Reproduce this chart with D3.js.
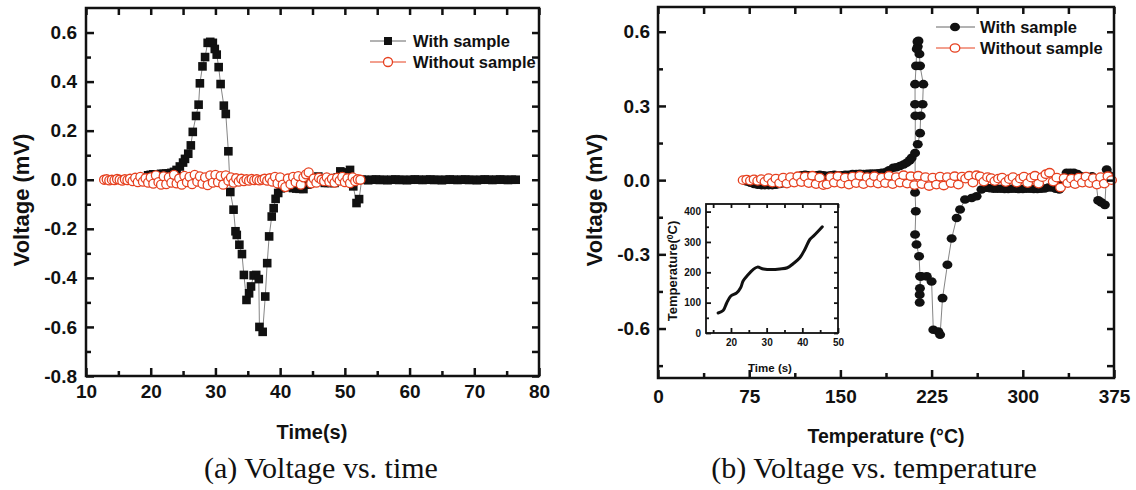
<!DOCTYPE html>
<html>
<head>
<meta charset="utf-8">
<script src="https://cdn.jsdelivr.net/npm/d3@7"></script>
<style>
body { margin: 0; background: #fff; }
svg text { font-family: "Liberation Sans", Arial, sans-serif; font-weight: bold; fill: #111; }
svg text.caption { font-family: "Liberation Serif", "DejaVu Serif", serif; font-weight: normal; }
</style>
</head>
<body>
<svg id="fig" width="1136" height="490"></svg>
<script>
// ---- data ----
let timeTicks = [10, 20, 30, 40, 50, 60, 70, 80];
let voltTicksA = [-0.8, -0.6, -0.4, -0.2, 0.0, 0.2, 0.4, 0.6];
let tempTicks = [0, 75, 150, 225, 300, 375];
let voltTicksB = [-0.6, -0.3, 0.0, 0.3, 0.6];
let insetTimeTicks = [20, 30, 40, 50];
let insetTempTicks = [0, 100, 200, 300, 400];

// (a) with sample: [time s, voltage mV]
let withSampleA = [
  [19.6, 0.018], [20.0, 0.02], [20.4, 0.022], [20.8, 0.022], [21.2, 0.022], [21.6, 0.024], [22.0, 0.024],
  [22.4, 0.025], [22.8, 0.026], [23.2, 0.028], [23.6, 0.032], [24.0, 0.04], [24.5, 0.054], [25.0, 0.07],
  [25.3, 0.085], [25.8, 0.106], [26.2, 0.14], [26.5, 0.195], [27.0, 0.26], [27.4, 0.306], [27.6, 0.393],
  [28.0, 0.462], [28.4, 0.50], [28.8, 0.558], [29.2, 0.562], [29.6, 0.558], [29.9, 0.533], [30.2, 0.51],
  [30.5, 0.459], [30.8, 0.39], [31.3, 0.302], [31.6, 0.268], [32.0, 0.116], [32.3, -0.05], [32.8, -0.122],
  [33.1, -0.21], [33.3, -0.225], [33.7, -0.265], [34.1, -0.303], [34.4, -0.388], [34.8, -0.49], [35.2, -0.463],
  [35.5, -0.435], [35.9, -0.39], [36.3, -0.388], [36.7, -0.405], [36.8, -0.6], [37.3, -0.62], [37.7, -0.476],
  [38.0, -0.34], [38.3, -0.231], [38.7, -0.15], [39.0, -0.116], [39.3, -0.078], [39.7, -0.054], [40.1, -0.035],
  [40.5, -0.02], [41.0, -0.025], [41.5, -0.03], [42.0, -0.034], [42.5, -0.036], [43.0, -0.037], [43.6, -0.038],
  [44.2, -0.02], [44.8, -0.005], [45.4, 0.005], [45.9, 0.013], [46.4, -0.005], [46.9, -0.013], [47.4, -0.013],
  [47.9, -0.013], [48.4, -0.013], [48.9, 0.01], [49.3, 0.034], [49.8, 0.03], [50.3, 0.025], [50.8, 0.04],
  [51.3, -0.027], [51.8, -0.095], [52.2, -0.079], [52.6, 0.0], [53.0, 0.0], [53.6, -0.002], [54.2, 0.0],
  [54.8, 0.001], [55.4, -0.001], [56.0, 0.0], [56.6, -0.002], [57.2, 0.0], [57.8, 0.001], [58.4, -0.001],
  [59.0, 0.0], [59.6, -0.002], [60.2, 0.0], [60.8, 0.001], [61.4, 0.0], [62.0, -0.001], [62.6, 0.0],
  [63.2, 0.001], [63.8, -0.001], [64.4, 0.0], [65.0, -0.002], [65.6, 0.0], [66.2, 0.001], [66.8, 0.0],
  [67.4, -0.001], [68.0, 0.0], [68.6, 0.001], [69.2, -0.001], [69.8, 0.0], [70.4, -0.002], [71.0, 0.0],
  [71.6, 0.001], [72.2, 0.0], [72.8, -0.001], [73.4, 0.0], [74.0, 0.001], [74.6, 0.0], [75.2, -0.001],
  [75.8, 0.0], [76.4, 0.0]
];

let noSampleTimeA = [
  12.8, 13.2, 13.6, 14.0, 14.4, 14.8, 15.2, 15.6, 16.0, 16.4, 16.8, 17.2, 17.6, 18.0, 18.4, 18.8, 19.2, 19.6, 20.0, 20.4,
  20.8, 21.2, 21.6, 22.0, 22.4, 22.8, 23.2, 23.6, 24.0, 24.4, 24.8, 25.2, 25.6, 26.0, 26.4, 26.8, 27.2, 27.6, 28.0, 28.4,
  28.8, 29.2, 29.6, 30.0, 30.4, 30.8, 31.2, 31.6, 32.0, 32.4, 32.8, 33.2, 33.6, 34.0, 34.4, 34.8, 35.2, 35.6, 36.0, 36.4,
  36.8, 37.2, 37.6, 38.0, 38.4, 38.8, 39.2, 39.6, 40.0, 40.4, 40.8, 41.2, 41.6, 42.0, 42.4, 42.8, 43.2, 43.6, 44.0, 44.4,
  44.8, 45.2, 45.6, 46.0, 46.4, 46.8, 47.2, 47.6, 48.0, 48.4, 48.8, 49.2, 49.6, 50.0, 50.4, 50.8, 51.2, 51.6, 52.0, 52.4
];
let noSampleVoltA = [
  0.0, 0.002, -0.003, 0.0, -0.002, 0.003, 0.0, -0.004, 0.002, -0.002, 0.004, -0.006, 0.008, -0.01, 0.012, -0.008, 0.006, -0.012, 0.01, -0.016,
  0.018, -0.01, -0.02, 0.014, -0.018, 0.01, -0.012, 0.02, -0.015, 0.005, -0.02, 0.016, -0.01, 0.012, -0.018, 0.02, -0.008, 0.014, -0.016, 0.01,
  -0.022, 0.018, -0.012, 0.02, -0.01, 0.015, -0.02, 0.018, -0.004, 0.01, -0.012, 0.006, -0.008, 0.004, -0.006, 0.002, -0.004, 0.003, -0.002, 0.002,
  -0.003, 0.0, 0.004, -0.004, 0.006, -0.008, 0.012, -0.015, 0.01, -0.02, -0.03, 0.005, -0.018, 0.012, -0.01, 0.015, -0.02, 0.01, 0.022, 0.03,
  -0.015, 0.005, -0.012, 0.008, 0.0, -0.006, 0.01, -0.008, 0.004, -0.012, 0.008, -0.004, 0.012, -0.01, 0.006, -0.014, 0.01, -0.006, 0.002, 0.0
];

// (b) with sample: [temperature C, voltage mV]
let withSampleB = [
  [73, -0.005], [76, -0.01], [79, -0.015], [82, -0.018], [85, -0.02], [88, -0.02], [91, -0.02], [94, -0.02],
  [97, -0.018], [100, -0.015], [103, -0.012], [106, -0.01], [109, -0.005], [112, 0.0], [115, 0.015], [118, 0.02],
  [121, 0.022], [124, 0.02], [127, 0.018], [130, 0.02], [133, 0.022], [136, 0.02], [139, 0.018], [142, 0.02],
  [145, 0.022], [148, 0.02], [151, 0.02], [154, 0.022], [157, 0.022], [160, 0.025], [163, 0.025], [166, 0.026],
  [169, 0.025], [172, 0.026], [175, 0.027], [178, 0.027], [181, 0.028], [184, 0.03], [187, 0.032], [190, 0.04],
  [193.5, 0.05], [196, 0.052], [199, 0.057], [202, 0.063], [204.5, 0.07], [207, 0.08], [208.6, 0.09], [211.4, 0.11],
  [213.6, 0.145], [215.5, 0.19], [216, 0.26], [217.6, 0.307], [218.2, 0.388], [215.5, 0.462], [215, 0.51],
  [213.6, 0.54], [214.2, 0.563], [213.4, 0.56], [212.8, 0.53], [212.2, 0.462], [211.4, 0.388], [211.4, 0.307],
  [211.6, 0.26], [211.4, -0.05], [212, -0.126], [211.4, -0.22], [212.6, -0.26], [214.7, -0.308], [215.5, -0.389],
  [215.2, -0.495], [215.2, -0.463], [215.4, -0.437], [216.5, -0.389], [221, -0.389], [225, -0.41], [226.4, -0.605],
  [230.5, -0.612], [232, -0.625], [234, -0.477], [238, -0.342], [241.5, -0.236], [245.6, -0.153], [248.4, -0.119],
  [252.5, -0.078], [258, -0.072], [262, -0.065], [266, -0.038], [270, -0.031], [273, -0.033], [276, -0.035],
  [279, -0.035], [282, -0.035], [285, -0.036], [288, -0.036], [291, -0.035], [294, -0.035], [297, -0.036],
  [300, -0.036], [303, -0.035], [306, -0.035], [309, -0.036], [312, -0.036], [315, -0.035], [318, -0.034],
  [321, -0.03], [324, -0.03], [327, -0.035], [330, -0.038], [333, -0.01], [336, 0.03], [339, 0.03], [342, 0.03],
  [345, 0.025], [348, 0.015], [351, 0.01], [354, 0.012], [357, 0.015], [360, 0.0], [362, -0.082], [364.5, -0.09],
  [367.5, -0.1], [369, 0.043], [371, 0.02]
];

let noSampleTempB = [
  70, 73, 76, 79, 82, 85, 88, 91, 94, 97, 100, 103, 106, 109, 112, 115, 118, 121, 124, 127, 130, 133, 136, 139, 142,
  145, 148, 151, 154, 157, 160, 163, 166, 169, 172, 175, 178, 181, 184, 187, 190, 193, 196, 199, 202, 205, 208, 211,
  214, 217, 220, 223, 226, 229, 232, 235, 238, 241, 244, 247, 250, 253, 256, 259, 262, 265, 268, 271, 274, 277, 280,
  283, 286, 289, 292, 295, 298, 301, 304, 307, 310, 313, 316, 319, 322, 325, 328, 331, 334, 337, 340, 343, 346, 349,
  352, 355, 358, 361, 364, 367, 370, 373
];
let noSampleVoltB = [
  0.0, 0.002, -0.002, 0.003, -0.003, 0.004, -0.006, 0.008, -0.01, 0.006, -0.012, 0.01, -0.014, 0.012, -0.01, 0.016,
  -0.008, 0.014, -0.012, 0.018, -0.016, 0.01, -0.02, -0.017, 0.012, -0.01, 0.016, -0.014, 0.01, -0.018, 0.014, -0.012,
  0.018, -0.016, 0.012, -0.01, 0.016, -0.014, 0.01, -0.012, 0.018, -0.016, 0.012, -0.01, 0.02, -0.014, 0.016, -0.02,
  0.018, -0.016, 0.012, -0.024, 0.01, -0.018, 0.014, -0.022, 0.012, -0.012, 0.016, -0.018, 0.014, 0.006, 0.018, -0.01,
  0.02, 0.015, -0.006, 0.012, 0.008, -0.004, 0.006, 0.01, -0.008, 0.004, 0.012, -0.01, 0.006, 0.014, -0.012, 0.01,
  0.018, -0.014, 0.012, 0.024, 0.03, -0.006, 0.01, -0.03, 0.008, -0.012, 0.006, -0.016, 0.01, -0.01, 0.014, -0.012,
  0.008, -0.018, 0.012, -0.014, 0.016, 0.0
];

// inset: temperature vs time
let insetTime = [16.4, 17.8, 18.8, 19.9, 21.6, 22.7, 23.4, 24.8, 26.2, 27.4, 29.1, 31.4, 33.7, 35.8, 37.5, 39.3, 40.7, 42.1, 43.1, 44.5, 45.6];
let insetTemp = [66, 74, 99, 121, 132, 149, 171, 192, 209, 217, 211, 209, 211, 215, 229, 248, 275, 308, 319, 336, 350];

let red = '#e6401f';
let svg = d3.select('#fig');

// frame with inward ticks on all four sides
let drawFrame = (g, x, y, o) => {
    let w = x.range()[1] - x.range()[0];
    let h = y.range()[0] - y.range()[1];
    let x0 = x.range()[0], y0 = y.range()[1], y1 = y.range()[0], x1 = x.range()[1];
    let fmt = o.yFormat || (d => d);

    let bottom = g.append('g').attr('transform', `translate(0,${y1})`)
        .call(d3.axisBottom(x).tickValues(o.xMajor).tickSize(-o.major).tickPadding(o.padX));
    g.append('g').attr('transform', `translate(0,${y1})`)
        .call(d3.axisBottom(x).tickValues(o.xMinor).tickSize(-o.minor).tickFormat(''));
    let left = g.append('g').attr('transform', `translate(${x0},0)`)
        .call(d3.axisLeft(y).tickValues(o.yMajor).tickSize(-o.major).tickPadding(o.padY).tickFormat(fmt));
    g.append('g').attr('transform', `translate(${x0},0)`)
        .call(d3.axisLeft(y).tickValues(o.yMinor).tickSize(-o.minor).tickFormat(''));
    g.append('g').attr('transform', `translate(0,${y0})`)
        .call(d3.axisTop(x).tickValues(o.xMajor.concat(o.xMinor)).tickSize(-o.side).tickFormat(''));
    g.append('g').attr('transform', `translate(${x1},0)`)
        .call(d3.axisRight(y).tickValues(o.yMajor.concat(o.yMinor)).tickSize(-o.side).tickFormat(''));

    g.selectAll('.domain').remove();
    g.selectAll('.tick line').attr('stroke', '#111').attr('stroke-width', o.stroke);
    bottom.selectAll('text').style('font-size', o.font + 'px').attr('fill', '#111');
    left.selectAll('text').style('font-size', o.font + 'px').attr('fill', '#111');

    g.append('rect')
        .attr('x', x0).attr('y', y0).attr('width', w).attr('height', h)
        .attr('fill', 'none').attr('stroke', '#111').attr('stroke-width', o.stroke);
};

// ---------- (a) voltage vs time ----------
let xA = d3.scaleLinear().domain([10, 80]).range([86, 539]);
let yA = d3.scaleLinear().domain([-0.8, 0.7]).range([376, 8]);
let gA = svg.append('g');

gA.append('path')
    .datum(withSampleA)
    .attr('d', d3.line().x(d => xA(d[0])).y(d => yA(d[1])))
    .attr('fill', 'none').attr('stroke', '#666').attr('stroke-width', 0.8);
gA.selectAll('rect.sq')
    .data(withSampleA)
    .enter()
    .append('rect')
    .attr('class', 'sq')
    .attr('x', d => xA(d[0]) - 4.3).attr('y', d => yA(d[1]) - 4.3)
    .attr('width', 8.6).attr('height', 8.6)
    .attr('fill', '#111');

gA.append('path')
    .datum(noSampleTimeA)
    .attr('d', d3.line().x(d => xA(d)).y((d, i) => yA(noSampleVoltA[i])))
    .attr('fill', 'none').attr('stroke', red).attr('stroke-width', 0.8);
gA.selectAll('circle.open')
    .data(noSampleTimeA)
    .enter()
    .append('circle')
    .attr('class', 'open')
    .attr('cx', d => xA(d)).attr('cy', (d, i) => yA(noSampleVoltA[i]))
    .attr('r', 4.5)
    .attr('fill', '#fff').attr('stroke', red).attr('stroke-width', 1.3);

drawFrame(gA, xA, yA, {
    xMajor: timeTicks, xMinor: [15, 25, 35, 45, 55, 65, 75],
    yMajor: voltTicksA, yMinor: [-0.7, -0.5, -0.3, -0.1, 0.1, 0.3, 0.5],
    major: 8, minor: 5, side: 7, padX: 9, padY: 9, font: 19, stroke: 2.5,
    yFormat: d => d.toFixed(1)
});

// legend (a)
let legA = gA.append('g');
legA.append('line').attr('x1', 370).attr('x2', 406).attr('y1', 41).attr('y2', 41).attr('stroke', '#666');
legA.append('rect').attr('x', 384).attr('y', 37).attr('width', 8).attr('height', 8).attr('fill', '#111');
legA.append('text').attr('x', 413).attr('y', 47).style('font-size', '16.5px').text('With sample');
legA.append('line').attr('x1', 370).attr('x2', 406).attr('y1', 62).attr('y2', 62).attr('stroke', red);
legA.append('circle').attr('cx', 388).attr('cy', 62).attr('r', 4.5).attr('fill', '#fff').attr('stroke', red).attr('stroke-width', 1.3);
legA.append('text').attr('x', 413).attr('y', 68).style('font-size', '16.5px').text('Without sample');

gA.append('text').attr('x', 312).attr('y', 439).attr('text-anchor', 'middle').style('font-size', '20px').text('Time(s)');
gA.append('text').attr('transform', 'translate(29,200) rotate(-90)').attr('text-anchor', 'middle')
    .style('font-size', '22px').text('Voltage (mV)');
gA.append('text').attr('class', 'caption').attr('x', 321).attr('y', 478).attr('text-anchor', 'middle')
    .style('font-size', '30px').text('(a) Voltage vs. time');

// ---------- (b) voltage vs temperature ----------
let xB = d3.scaleLinear().domain([0, 375]).range([658, 1114]);
let yB = d3.scaleLinear().domain([-0.8, 0.7]).range([378, 7]);
let gB = svg.append('g');

gB.append('path')
    .datum(withSampleB)
    .attr('d', d3.line().x(d => xB(d[0])).y(d => yB(d[1])))
    .attr('fill', 'none').attr('stroke', '#666').attr('stroke-width', 0.8);
gB.selectAll('ellipse.dot')
    .data(withSampleB)
    .enter()
    .append('ellipse')
    .attr('class', 'dot')
    .attr('cx', d => xB(d[0])).attr('cy', d => yB(d[1]))
    .attr('rx', 5).attr('ry', 4.3)
    .attr('fill', '#111');

gB.append('path')
    .datum(noSampleTempB)
    .attr('d', d3.line().x(d => xB(d)).y((d, i) => yB(noSampleVoltB[i])))
    .attr('fill', 'none').attr('stroke', red).attr('stroke-width', 0.8);
gB.selectAll('ellipse.open')
    .data(noSampleTempB)
    .enter()
    .append('ellipse')
    .attr('class', 'open')
    .attr('cx', d => xB(d)).attr('cy', (d, i) => yB(noSampleVoltB[i]))
    .attr('rx', 4.8).attr('ry', 4.2)
    .attr('fill', '#fff').attr('stroke', red).attr('stroke-width', 1.3);

drawFrame(gB, xB, yB, {
    xMajor: tempTicks, xMinor: [37.5, 112.5, 187.5, 262.5, 337.5],
    yMajor: voltTicksB, yMinor: [-0.75, -0.45, -0.15, 0.15, 0.45],
    major: 8, minor: 5, side: 7, padX: 12, padY: 8, font: 19, stroke: 2.5,
    yFormat: d => d.toFixed(1)
});

let legB = gB.append('g');
legB.append('line').attr('x1', 936).attr('x2', 975).attr('y1', 27).attr('y2', 27).attr('stroke', '#666');
legB.append('ellipse').attr('cx', 955).attr('cy', 27).attr('rx', 5).attr('ry', 4.3).attr('fill', '#111');
legB.append('text').attr('x', 980).attr('y', 33).style('font-size', '16.5px').text('With sample');
legB.append('line').attr('x1', 936).attr('x2', 975).attr('y1', 48).attr('y2', 48).attr('stroke', red);
legB.append('ellipse').attr('cx', 955).attr('cy', 48).attr('rx', 4.8).attr('ry', 4.2).attr('fill', '#fff').attr('stroke', red).attr('stroke-width', 1.3);
legB.append('text').attr('x', 980).attr('y', 54).style('font-size', '16.5px').text('Without sample');

gB.append('text').attr('x', 886).attr('y', 443).attr('text-anchor', 'middle').style('font-size', '19.5px').text('Temperature (°C)');
gB.append('text').attr('transform', 'translate(602,200) rotate(-90)').attr('text-anchor', 'middle')
    .style('font-size', '22px').text('Voltage (mV)');
gB.append('text').attr('class', 'caption').attr('x', 874).attr('y', 478).attr('text-anchor', 'middle')
    .style('font-size', '30px').text('(b) Voltage vs. temperature');

// ---------- inset ----------
let xI = d3.scaleLinear().domain([13, 50]).range([706, 838]);
let yI = d3.scaleLinear().domain([0, 425]).range([333, 204]);
let gI = svg.append('g');
gI.append('rect').attr('x', 706).attr('y', 204).attr('width', 132).attr('height', 129).attr('fill', '#fff');
gI.append('path')
    .datum(insetTime)
    .attr('d', d3.line().curve(d3.curveCatmullRom).x(d => xI(d)).y((d, i) => yI(insetTemp[i])))
    .attr('fill', 'none').attr('stroke', '#111').attr('stroke-width', 3).attr('stroke-linecap', 'round');

drawFrame(gI, xI, yI, {
    xMajor: insetTimeTicks, xMinor: [15, 25, 35, 45],
    yMajor: insetTempTicks, yMinor: [50, 150, 250, 350],
    major: 5, minor: 3, side: 4, padX: 6, padY: 5, font: 10, stroke: 1.8
});
gI.append('text').attr('x', 770).attr('y', 372).attr('text-anchor', 'middle').style('font-size', '11.5px').text('Time (s)');
let tI = gI.append('text').attr('transform', 'translate(677,271) rotate(-90)').attr('text-anchor', 'middle')
    .style('font-size', '13px');
tI.append('tspan').text('Temperature(');
tI.append('tspan').attr('dy', -4).style('font-size', '8.5px').text('0');
tI.append('tspan').attr('dy', 4).text('C)');
</script>
</body>
</html>
